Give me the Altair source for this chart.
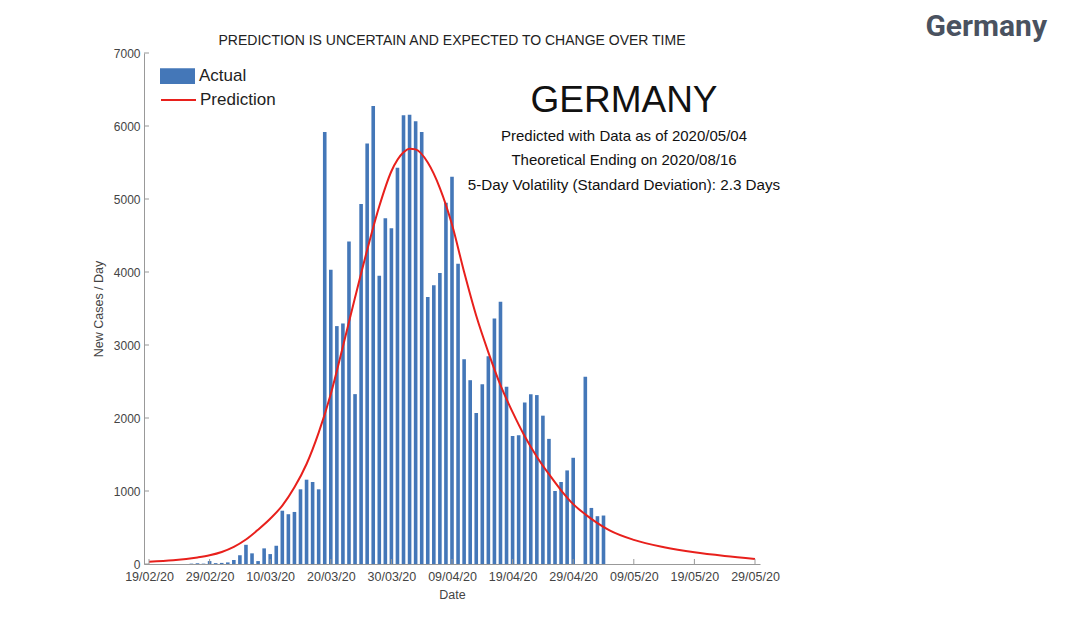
import altair as alt
import pandas as pd

START = "2020-02-19"

# daily new cases, 19/02/20 .. 04/05/20 (one value per day)
ACTUAL = [
    0, 0, 0, 0, 0, 0, 0, 5, 10, 5,
    40, 12, 15, 22, 55, 120, 263, 146, 40, 214,
    136, 250, 730, 682, 713, 1023, 1155, 1123, 1023, 5918,
    4032, 3259, 3295, 4418, 2327, 4932, 5759, 6273, 3950, 4736,
    4600, 5427, 6146, 6155, 6064, 5918, 3659, 3818, 3986, 4950,
    5305, 4114, 2805, 2518, 2068, 2464, 2846, 3364, 3591, 2427,
    1755, 1764, 2214, 2327, 2314, 2032, 1714, 1000, 1123, 1282,
    1455, 0, 2564, 768, 655, 664,
]

# prediction curve (days after 19/02/20, value)
PRED_DAYS = [0, 4, 8, 10, 12, 14, 16, 18, 20, 22, 24, 26, 28, 30, 32, 34, 36,
             38, 40, 42, 43, 44, 46, 48, 50, 52, 54, 56, 58, 60, 62, 64, 66,
             68, 70, 72, 74, 76, 80, 85, 90, 95, 100]
PRED_VALUES = [30, 50, 90, 120, 165, 235, 335, 470, 620, 800, 1050, 1370,
               1800, 2330, 2980, 3650, 4300, 4900, 5380, 5640, 5690, 5680,
               5500, 5150, 4650, 4000, 3400, 2900, 2450, 2080, 1750, 1470,
               1230, 1010, 820, 680, 560, 460, 330, 230, 160, 110, 70]

TICK_DATES = ["2020-02-19", "2020-02-29", "2020-03-10", "2020-03-20",
              "2020-03-30", "2020-04-09", "2020-04-19", "2020-04-29",
              "2020-05-09", "2020-05-19", "2020-05-29"]
Y_TICKS = [0, 1000, 2000, 3000, 4000, 5000, 6000, 7000]

TITLE = "PREDICTION IS UNCERTAIN AND EXPECTED TO CHANGE OVER TIME"
COUNTRY = "GERMANY"
NOTES = [
    "Predicted with Data as of 2020/05/04",
    "Theoretical Ending on 2020/08/16",
    "5-Day Volatility (Standard Deviation): 2.3 Days",
]
CORNER = "Germany"

BLUE = "#4477b8"
RED = "#e8201c"
FONT = "Liberation Sans"
W, H = 616, 511

start = pd.Timestamp(START)
bars = pd.DataFrame({
    "date": pd.date_range(start, periods=len(ACTUAL), freq="D"),
    "cases": ACTUAL,
    "series": "Actual",
})
pred = pd.DataFrame({
    "date": [start + pd.Timedelta(days=d) for d in PRED_DAYS],
    "cases": PRED_VALUES,
    "series": "Prediction",
})
xticks = pd.DataFrame({"date": pd.to_datetime(TICK_DATES)})
yticks = pd.DataFrame({"v": Y_TICKS})

x_scale = alt.Scale(domain=[alt.DateTime(year=2020, month=2, date=19),
                            alt.DateTime(year=2020, month=5, date=29)])
y_scale = alt.Scale(domain=[0, 7000], nice=False)

x_axis = alt.Axis(
    values=[alt.DateTime(year=int(d[:4]), month=int(d[5:7]), date=int(d[8:]))
            for d in TICK_DATES],
    format="%d/%m/%y", grid=False, tickSize=0, labelPadding=6,
    labelFont=FONT, labelFontSize=12.5, labelColor="#444", labelFlush=False,
    titleFont=FONT, titleFontSize=12.5, titleFontWeight="normal",
    titleColor="#444", titlePadding=6, domainColor="#999",
)
y_axis = alt.Axis(
    values=Y_TICKS, format="d", grid=False, tickSize=0, labelPadding=4,
    labelFont=FONT, labelFontSize=12, labelColor="#444",
    titleFont=FONT, titleFontSize=12.5, titleFontWeight="normal",
    titleColor="#444", titlePadding=8, domainColor="#999",
)

actual = alt.Chart(bars).mark_bar(size=3.6).encode(
    x=alt.X("date:T", scale=x_scale, axis=x_axis, title="Date"),
    y=alt.Y("cases:Q", scale=y_scale, axis=y_axis, title="New Cases / Day"),
    fill=alt.Fill(
        "series:N",
        scale=alt.Scale(domain=["Actual"], range=[BLUE]),
        legend=alt.Legend(
            title=None, orient="none", legendX=16, legendY=5.5, padding=0,
            symbolType="M-1,-0.45H1V0.45H-1Z", symbolSize=1225,
            symbolStrokeWidth=0, symbolOpacity=1,
            labelFont=FONT, labelFontSize=17, labelColor="#222", labelOffset=4,
        ),
    ),
)

prediction = alt.Chart(pred).mark_line(
    strokeWidth=2, interpolate="monotone"
).encode(
    x="date:T",
    y="cases:Q",
    stroke=alt.Stroke(
        "series:N",
        scale=alt.Scale(domain=["Prediction"], range=[RED]),
        legend=alt.Legend(
            title=None, orient="none", legendX=16, legendY=28.5, padding=0,
            symbolType="stroke", symbolSize=1225, symbolStrokeWidth=2,
            labelFont=FONT, labelFontSize=17, labelColor="#222", labelOffset=3,
        ),
    ),
)

x_tick_marks = alt.Chart(xticks).mark_rule(color="#999").encode(
    x="date:T", y=alt.value(H), y2=alt.value(H - 5)
)
y_tick_marks = alt.Chart(yticks).mark_rule(color="#999").encode(
    y="v:Q", x=alt.value(0), x2=alt.value(5)
)


def note(text, x, y, size, color="#111"):
    return alt.Chart(pd.DataFrame({"t": [text]})).mark_text(
        font=FONT, fontSize=size, align="center", baseline="middle",
        color=color,
    ).encode(text="t:N", x=alt.value(x), y=alt.value(y))


layers = [
    note(TITLE, W / 2, -12, 14, color="#222"),
    note(COUNTRY, 480, 48, 37),
    note(NOTES[0], 480, 83, 15),
    note(NOTES[1], 480, 107, 15),
    note(NOTES[2], 480, 132, 15.2),
    alt.Chart(pd.DataFrame({"t": [CORNER]})).mark_text(
        font="Roboto", fontSize=30, fontWeight="bold", align="right",
        baseline="alphabetic", color="#4a5260",
    ).encode(text="t:N", x=alt.value(903), y=alt.value(-17)),
]

chart = alt.layer(
    actual, prediction, x_tick_marks, y_tick_marks, *layers
).resolve_scale(
    fill="independent", stroke="independent"
).properties(
    width=W, height=H,
    padding={"left": 136, "top": 45, "right": 310, "bottom": 50},
    autosize=alt.AutoSizeParams(type="none"),
).configure_view(stroke=None)

chart.save("out.html", embed_options={"renderer": "svg", "actions": False})
